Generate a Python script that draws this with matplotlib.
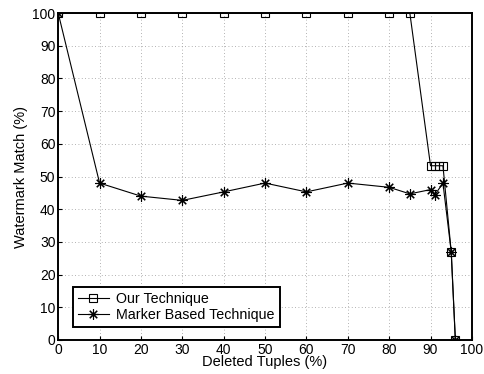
import numpy as np
import matplotlib
matplotlib.use("Agg")
import matplotlib.pyplot as plt

plt.rcParams['font.family'] = ['Liberation Sans', 'DejaVu Sans']

# deletion percentages and watermark match for each technique
ours_x = [0, 10, 20, 30, 40, 50, 60, 70, 80, 85, 90, 91, 92, 93, 95, 96]
ours_y = [100, 100, 100, 100, 100, 100, 100, 100, 100, 100, 53.3, 53.3, 53.3, 53.3, 27, 0]

marker_x = [0, 10, 20, 30, 40, 50, 60, 70, 80, 85, 90, 91, 93, 95, 96]
marker_y = [100, 48, 44, 42.7, 45.3, 48, 45.3, 48, 46.7, 44.7, 46, 44.3, 48, 27, 0]

fig = plt.figure(figsize=(4.85, 3.74), dpi=100)
ax = fig.add_axes([0.12, 0.091, 0.853, 0.874])

ax.plot(ours_x, ours_y, color='black', lw=0.8, marker='s', ms=6,
        mfc='none', mec='black', mew=0.8, label='Our Technique')
ax.plot(marker_x, marker_y, color='black', lw=0.8, marker=(8, 2, 0), ms=7.5,
        mec='black', mew=0.8, label='Marker Based Technique')

ax.set_xlim(0, 100)
ax.set_ylim(0, 100)
ax.set_xticks(np.arange(0, 101, 10))
ax.set_yticks(np.arange(0, 101, 10))
ax.grid(True, linestyle=(0, (1, 3)), color='#999999', lw=0.6)
ax.tick_params(direction='in', length=3, labelsize=10, pad=2)
for s in ax.spines.values():
    s.set_linewidth(1.4)

ax.set_xlabel('Deleted Tuples (%)', fontsize=10.5, labelpad=-1)
ax.set_ylabel('Watermark Match (%)', fontsize=10.5, labelpad=3)

leg = ax.legend(loc='lower left', bbox_to_anchor=(0.035, 0.04), fontsize=10.3,
                fancybox=False, edgecolor='black', framealpha=1,
                borderpad=0.35, labelspacing=0.1, handlelength=2.2,
                handletextpad=0.5, borderaxespad=0)
leg.get_frame().set_linewidth(1.4)

fig.savefig('out.png', dpi=100)
